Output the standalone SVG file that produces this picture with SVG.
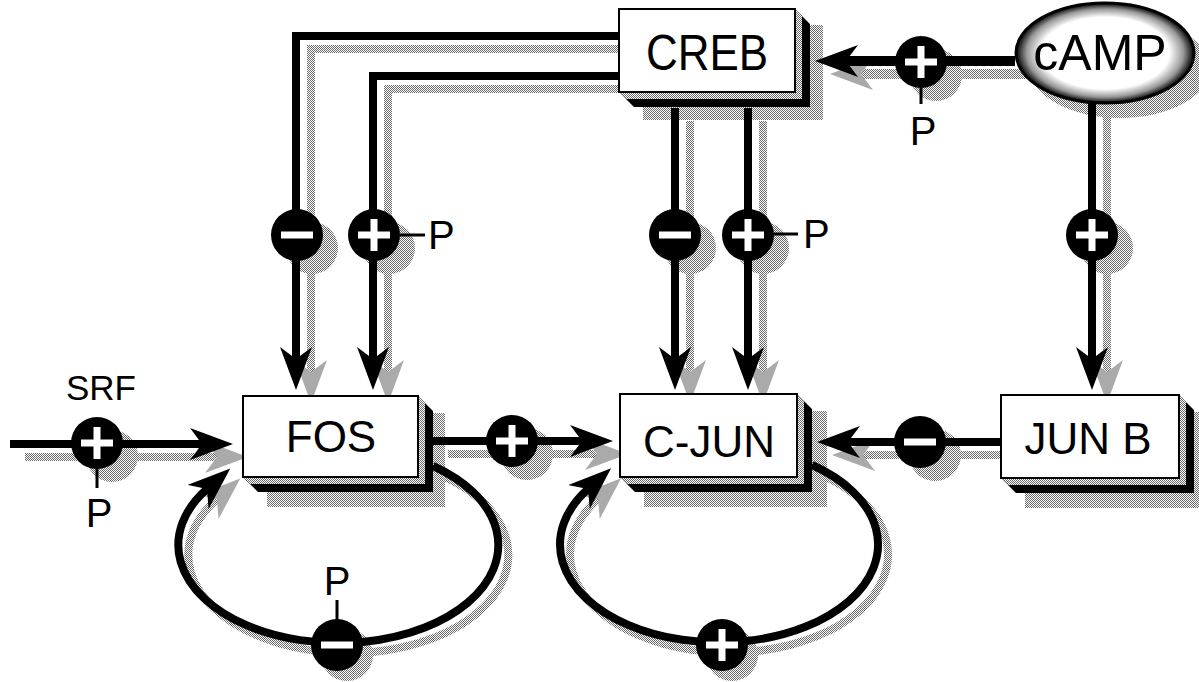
<svg xmlns="http://www.w3.org/2000/svg" width="1199" height="682" viewBox="0 0 1199 682">
<defs>
<pattern id="st" width="2" height="2" patternUnits="userSpaceOnUse"><rect width="2" height="2" fill="#fff"/><rect width="1" height="1" fill="#6a6a6a"/><rect x="1" y="1" width="1" height="1" fill="#6a6a6a"/></pattern>
<marker id="ah" viewBox="-12 -16 43 32" refX="0" refY="0" markerWidth="43" markerHeight="32" markerUnits="userSpaceOnUse" orient="auto"><path d="M31,0 L-12,-16 L0,0 L-12,16 Z" fill="#000"/></marker>
<marker id="ahs" viewBox="-12 -16 43 32" refX="0" refY="0" markerWidth="43" markerHeight="32" markerUnits="userSpaceOnUse" orient="auto"><path d="M31,0 L-12,-16 L0,0 L-12,16 Z" fill="#aaa"/></marker>
<radialGradient id="eg" cx="0.5" cy="0.5" r="0.5"><stop offset="0" stop-color="#fff"/><stop offset="0.72" stop-color="#fff"/><stop offset="0.88" stop-color="#999"/><stop offset="1" stop-color="#000"/></radialGradient>
<style>
.ln{fill:none;stroke:#000;stroke-width:8;stroke-linejoin:miter}
.sh{fill:none;stroke:url(#st);stroke-width:8;stroke-linejoin:miter}
.shf{fill:url(#st)}
.face{fill:#fff;stroke:#000;stroke-width:2}
.ext{fill:#000}
.bev{fill:url(#st)}
.t{font-family:"Liberation Sans",Arial,Helvetica,sans-serif;fill:#000;text-anchor:middle}
.big{font-size:44px}
.p{font-size:40px}
.tick{stroke:#000;stroke-width:3}
.sg{fill:#000}
.bar{fill:#fff}
</style>
</defs>
<rect width="1199" height="682" fill="#fff"/>

<g id="shadows">
  <rect class="shf" x="643" y="25" width="180" height="95"/>
  <rect class="shf" x="267" y="413" width="178" height="94"/>
  <rect class="shf" x="644" y="411" width="183" height="96"/>
  <rect class="shf" x="1025" y="412" width="174" height="96"/>
  <ellipse class="shf" cx="1120" cy="68" rx="90" ry="50"/>
  <g transform="translate(15,13)">
    <path class="sh" d="M619,36 H296 V359" marker-end="url(#ahs)"/>
    <path class="sh" d="M619,76 H373 V359" marker-end="url(#ahs)"/>
    <path class="sh" d="M675,108 V359" marker-end="url(#ahs)"/>
    <path class="sh" d="M748,108 V359" marker-end="url(#ahs)"/>
    <path class="sh" d="M1015,61 H846" style="stroke-width:10" marker-end="url(#ahs)"/>
    <path class="sh" d="M1092,103 V359" marker-end="url(#ahs)"/>
    <path class="sh" d="M10,444 H202" marker-end="url(#ahs)"/>
    <path class="sh" d="M433,441 H582" marker-end="url(#ahs)"/>
    <path class="sh" d="M1001,442 H848" marker-end="url(#ahs)"/>
    <circle class="shf" cx="297" cy="235" r="26"/>
    <circle class="shf" cx="374" cy="235" r="26"/>
    <circle class="shf" cx="675" cy="235" r="26"/>
    <circle class="shf" cx="748" cy="235" r="26"/>
    <circle class="shf" cx="921" cy="62" r="26"/>
    <circle class="shf" cx="1092" cy="235" r="26"/>
    <circle class="shf" cx="97" cy="443" r="26"/>
    <circle class="shf" cx="512" cy="441" r="26"/>
    <circle class="shf" cx="920" cy="442" r="26"/>
  </g>
  <g transform="translate(10,10)">
    <path class="sh" d="M433,466 A160,98 0 1,1 207,489" marker-end="url(#ahs)"/>
    <path class="sh" d="M812,465 A159,98 0 1,1 588,489" marker-end="url(#ahs)"/>
    <circle class="shf" cx="337" cy="645" r="26"/>
    <circle class="shf" cx="722" cy="645" r="26"/>
  </g>
</g>

<g id="connectors">
  <path class="ln" d="M619,36 H296 V359" marker-end="url(#ah)"/>
  <path class="ln" d="M619,76 H373 V359" marker-end="url(#ah)"/>
  <path class="ln" d="M675,108 V359" marker-end="url(#ah)"/>
  <path class="ln" d="M748,108 V359" marker-end="url(#ah)"/>
  <path class="ln" d="M1015,61 H846" style="stroke-width:10" marker-end="url(#ah)"/>
  <path class="ln" d="M1092,103 V359" marker-end="url(#ah)"/>
  <path class="ln" d="M10,444 H202" marker-end="url(#ah)"/>
  <path class="ln" d="M433,441 H582" marker-end="url(#ah)"/>
  <path class="ln" d="M1001,442 H848" marker-end="url(#ah)"/>
  <path class="ln" d="M433,466 A160,98 0 1,1 207,489" marker-end="url(#ah)"/>
  <path class="ln" d="M812,465 A159,98 0 1,1 588,489" marker-end="url(#ah)"/>
  <line class="tick" x1="400" y1="235" x2="425" y2="235"/>
  <line class="tick" x1="774" y1="234" x2="798" y2="234"/>
  <line class="tick" x1="921" y1="88" x2="921" y2="104"/>
  <line class="tick" x1="97" y1="469" x2="97" y2="488"/>
  <line class="tick" x1="337" y1="600" x2="337" y2="620"/>
</g>

<g id="signs">
  <g id="s-fos-minus"><circle class="sg" cx="297" cy="235" r="26"/><rect class="bar" x="281" y="231.5" width="32" height="7"/></g>
  <g id="s-fos-plus"><circle class="sg" cx="374" cy="235" r="26"/><rect class="bar" x="358" y="231.5" width="32" height="7"/><rect class="bar" x="370.5" y="219" width="7" height="32"/></g>
  <g id="s-cjun-minus"><circle class="sg" cx="675" cy="235" r="26"/><rect class="bar" x="659" y="231.5" width="32" height="7"/></g>
  <g id="s-cjun-plus"><circle class="sg" cx="748" cy="235" r="26"/><rect class="bar" x="732" y="231.5" width="32" height="7"/><rect class="bar" x="744.5" y="219" width="7" height="32"/></g>
  <g id="s-creb-plus"><circle class="sg" cx="921" cy="62" r="26"/><rect class="bar" x="905" y="58.5" width="32" height="7"/><rect class="bar" x="917.5" y="46" width="7" height="32"/></g>
  <g id="s-junb-plus"><circle class="sg" cx="1092" cy="235" r="26"/><rect class="bar" x="1076" y="231.5" width="32" height="7"/><rect class="bar" x="1088.5" y="219" width="7" height="32"/></g>
  <g id="s-srf-plus"><circle class="sg" cx="97" cy="443" r="26"/><rect class="bar" x="81" y="439.5" width="32" height="7"/><rect class="bar" x="93.5" y="427" width="7" height="32"/></g>
  <g id="s-fc-plus"><circle class="sg" cx="512" cy="441" r="26"/><rect class="bar" x="496" y="437.5" width="32" height="7"/><rect class="bar" x="508.5" y="425" width="7" height="32"/></g>
  <g id="s-jc-minus"><circle class="sg" cx="920" cy="442" r="26"/><rect class="bar" x="904" y="438.5" width="32" height="7"/></g>
  <g id="s-fosloop-minus"><circle class="sg" cx="337" cy="645" r="26"/><rect class="bar" x="321" y="641.5" width="32" height="7"/></g>
  <g id="s-cjunloop-plus"><circle class="sg" cx="722" cy="645" r="26"/><rect class="bar" x="706" y="641.5" width="32" height="7"/><rect class="bar" x="718.5" y="629" width="7" height="32"/></g>
</g>

<g id="labels">
  <text class="t" x="101" y="400" style="font-size:35px">SRF</text>
  <text class="t p" x="99" y="527">P</text>
  <text class="t p" x="428" y="249" style="text-anchor:start">P</text>
  <text class="t p" x="803" y="248" style="text-anchor:start">P</text>
  <text class="t p" x="923" y="145">P</text>
  <text class="t p" x="337" y="595">P</text>
</g>

<g id="node-creb">
  <polygon class="ext" points="795,9 810,24 810,107 634,107 619,92 795,92"/>
  <polygon class="bev" points="795,9 802,16 802,99 626,99 619,92 795,92"/>
  <rect class="face" x="619" y="9" width="176" height="83"/>
  <text class="t big" transform="translate(707,70) scale(1,1.15)">CREB</text>
</g>

<g id="node-camp">
  <ellipse cx="1105" cy="53" rx="89" ry="50" fill="url(#eg)" stroke="#000" stroke-width="3"/>
  <text class="t" x="1100" y="70" style="font-size:50px">cAMP</text>
</g>

<g id="node-fos">
  <polygon class="ext" points="418,396 433,411 433,492 258,492 243,477 418,477"/>
  <polygon class="bev" points="418,396 425,403 425,484 250,484 243,477 418,477"/>
  <rect class="face" x="243" y="396" width="175" height="81"/>
  <text class="t big" x="331" y="452">FOS</text>
</g>

<g id="node-cjun">
  <polygon class="ext" points="797,394 812,409 812,492 635,492 620,477 797,477"/>
  <polygon class="bev" points="797,394 804,401 804,484 627,484 620,477 797,477"/>
  <rect class="face" x="620" y="394" width="177" height="83"/>
  <text class="t big" x="709" y="457">C-JUN</text>
</g>

<g id="node-junb">
  <polygon class="ext" points="1179,395 1194,410 1194,493 1016,493 1001,478 1179,478"/>
  <polygon class="bev" points="1179,395 1186,402 1186,485 1008,485 1001,478 1179,478"/>
  <rect class="face" x="1001" y="395" width="178" height="83"/>
  <text class="t big" x="1088" y="454">JUN B</text>
</g>
</svg>
